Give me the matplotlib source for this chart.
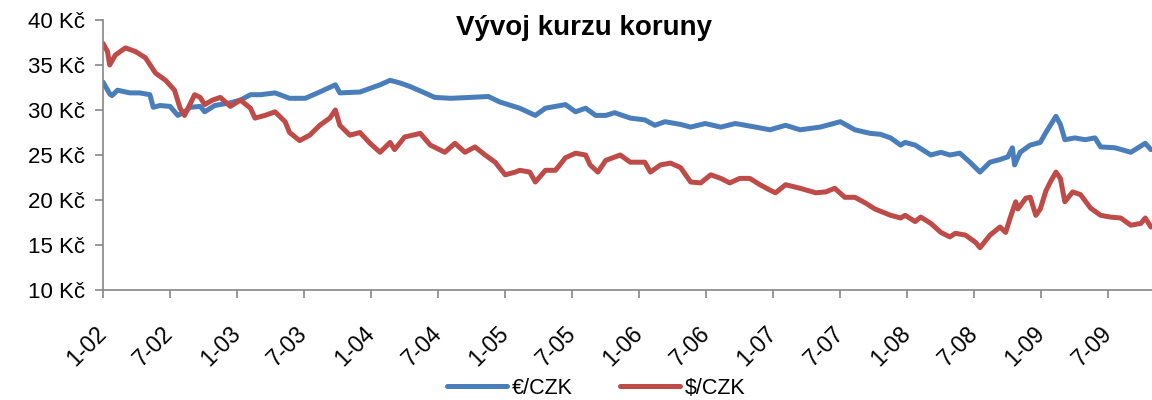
import matplotlib
matplotlib.use("Agg")
import matplotlib.pyplot as plt
import matplotlib.transforms as mtransforms

# months since 1/2002 and rate in Kc
eur_month = [0.0, 0.6, 0.8, 1.3, 2.4, 3.3, 4.2, 4.5, 5.1, 6.0, 6.7, 7.3, 7.8, 8.7, 9.1,
             10.0, 11.4, 12.3, 13.2, 14.1, 15.4, 16.7, 18.1, 19.4, 20.8, 21.2, 23.0,
             24.8, 25.7, 26.6, 27.5, 28.8, 29.7, 31.1, 32.9, 34.5, 35.5, 37.3, 38.7,
             39.6, 40.5, 41.4, 42.3, 43.2, 44.1, 45.0, 45.8, 47.2, 48.5, 49.4, 50.3,
             51.7, 52.6, 53.9, 55.3, 56.6, 58.4, 59.7, 61.1, 62.4, 64.2, 66.0, 67.3,
             68.7, 69.6, 70.5, 71.4, 71.8, 72.7, 74.1, 75.0, 75.8, 76.7, 77.6, 78.5,
             79.4, 80.3, 81.0, 81.4, 81.6, 82.1, 83.0, 83.9, 84.4, 85.3, 85.7, 86.1,
             87.0, 87.9, 88.8, 89.3, 90.6, 92.0, 93.3, 93.8]
eur_rate = [33.1, 31.8, 31.6, 32.2, 31.9, 31.9, 31.7, 30.3, 30.5, 30.4, 29.4, 29.8, 30.3,
            30.4, 29.8, 30.5, 30.8, 31.1, 31.7, 31.7, 31.9, 31.3, 31.3, 32.0, 32.8, 31.9,
            32.0, 32.8, 33.3, 33.0, 32.6, 31.9, 31.4, 31.3, 31.4, 31.5, 30.9, 30.2, 29.4,
            30.2, 30.4, 30.6, 29.8, 30.2, 29.4, 29.4, 29.7, 29.1, 28.9, 28.3, 28.7, 28.4,
            28.1, 28.5, 28.1, 28.5, 28.1, 27.8, 28.3, 27.8, 28.1, 28.7, 27.8, 27.4, 27.3,
            26.9, 26.1, 26.4, 26.1, 25.0, 25.3, 25.0, 25.2, 24.2, 23.1, 24.2, 24.5, 24.8,
            25.8, 23.9, 25.3, 26.1, 26.4, 27.5, 29.3, 28.4, 26.7, 26.9, 26.7, 26.9, 25.9,
            25.8, 25.3, 26.3, 25.6]

usd_month = [0.0, 0.4, 0.6, 1.1, 2.0, 2.9, 3.8, 4.7, 5.6, 6.4, 6.9, 7.3, 8.2, 8.7, 9.1,
             9.8, 10.5, 11.4, 12.3, 13.2, 13.6, 14.5, 15.4, 16.3, 16.7, 17.6, 18.5, 19.4,
             20.3, 20.8, 21.2, 22.1, 23.0, 23.9, 24.8, 25.7, 26.1, 27.0, 28.4, 29.3, 30.6,
             31.5, 32.4, 33.3, 34.2, 35.1, 36.0, 36.9, 37.3, 38.2, 38.7, 39.6, 40.5, 41.4,
             42.3, 43.2, 43.6, 44.3, 45.0, 46.3, 47.2, 48.5, 49.0, 49.9, 50.8, 51.7, 52.6,
             53.5, 54.4, 55.3, 56.1, 57.0, 57.9, 58.8, 59.7, 60.2, 61.1, 62.4, 63.8, 64.7,
             65.5, 66.4, 67.3, 68.2, 69.1, 70.5, 71.4, 71.8, 72.7, 73.2, 74.1, 75.0, 75.8,
             76.3, 77.2, 78.1, 78.5, 79.4, 80.3, 80.8, 81.2, 81.7, 81.9, 82.6, 83.0, 83.5,
             83.9, 84.4, 84.8, 85.3, 85.7, 86.1, 86.8, 87.5, 88.4, 89.3, 90.2, 91.1, 92.0,
             92.9, 93.3, 93.8]
usd_rate = [37.4, 36.5, 35.0, 36.1, 36.9, 36.5, 35.8, 34.1, 33.3, 32.2, 30.2, 29.4, 31.7,
            31.4, 30.6, 31.1, 31.4, 30.4, 31.1, 30.2, 29.1, 29.4, 29.8, 28.7, 27.5, 26.6,
            27.2, 28.3, 29.1, 30.0, 28.3, 27.2, 27.5, 26.3, 25.3, 26.4, 25.6, 27.0, 27.4,
            26.1, 25.3, 26.3, 25.3, 25.9, 25.0, 24.2, 22.8, 23.1, 23.3, 23.1, 22.0, 23.3,
            23.3, 24.7, 25.2, 25.0, 23.9, 23.1, 24.4, 25.0, 24.2, 24.2, 23.1, 23.9, 24.1,
            23.6, 22.0, 21.9, 22.8, 22.4, 21.9, 22.4, 22.4, 21.7, 21.1, 20.8, 21.7, 21.3,
            20.8, 20.9, 21.3, 20.3, 20.3, 19.7, 19.0, 18.3, 18.0, 18.3, 17.6, 18.1, 17.4,
            16.4, 15.9, 16.3, 16.1, 15.3, 14.7, 16.1, 17.0, 16.4, 18.0, 19.8, 19.0, 20.2,
            20.3, 18.3, 19.0, 21.0, 22.0, 23.1, 22.4, 19.8, 20.9, 20.6, 19.1, 18.3, 18.1,
            18.0, 17.2, 17.4, 18.0, 17.0]

tick_labels = ["1-02", "7-02", "1-03", "7-03", "1-04", "7-04", "1-05", "7-05",
               "1-06", "7-06", "1-07", "7-07", "1-08", "7-08", "1-09", "7-09"]
y_ticks = [10, 15, 20, 25, 30, 35, 40]

plt.rcParams["font.family"] = ["Liberation Sans", "DejaVu Sans"]
grey = "#868686"

fig = plt.figure(figsize=(11.52, 4), dpi=100)
ax = fig.add_axes([103 / 1152, 1 - 290 / 400, 1 - 103 / 1152, 270 / 400])

ax.plot(eur_month, eur_rate, color="#4A7EBB", lw=3.6, label="€/CZK",
        solid_capstyle="round", solid_joinstyle="round")
ax.plot(usd_month, usd_rate, color="#BE4B48", lw=3.6, label="$/CZK",
        solid_capstyle="round", solid_joinstyle="round")

ax.set_xlim(0, 93.9)
ax.set_ylim(10, 40)
ax.set_yticks(y_ticks)
ax.set_yticklabels([f"{v} Kč" for v in y_ticks], fontsize=16)
ax.set_xticks([6 * i for i in range(len(tick_labels))])
ax.set_xticklabels(tick_labels, rotation=45, ha="right", va="center",
                   rotation_mode="anchor", fontsize=16.5)

# nudge the rotated labels a little to the right, like in the original
shift = mtransforms.ScaledTranslation(4 / 72, 0, fig.dpi_scale_trans)
for lbl in ax.get_xticklabels():
    lbl.set_transform(lbl.get_transform() + shift)

for s in ["top", "right"]:
    ax.spines[s].set_visible(False)
for s in ["left", "bottom"]:
    ax.spines[s].set_color(grey)
    ax.spines[s].set_linewidth(1.2)
ax.tick_params(axis="both", direction="out", length=6, width=1.2, color=grey)
ax.tick_params(axis="y", pad=7)
ax.tick_params(axis="x", pad=23)

fig.text(584 / 1152, 1 - 28 / 400, "Vývoj kurzu koruny", ha="center", va="center",
         fontsize=20, fontweight="bold")

fig.legend(loc="center", bbox_to_anchor=(596 / 1152, 1 - 388 / 400), ncol=2,
           frameon=False, fontsize=15.5, handlelength=2.8, handletextpad=0.2,
           columnspacing=2.2, borderpad=0.1)

fig.savefig("out.png", dpi=100)
